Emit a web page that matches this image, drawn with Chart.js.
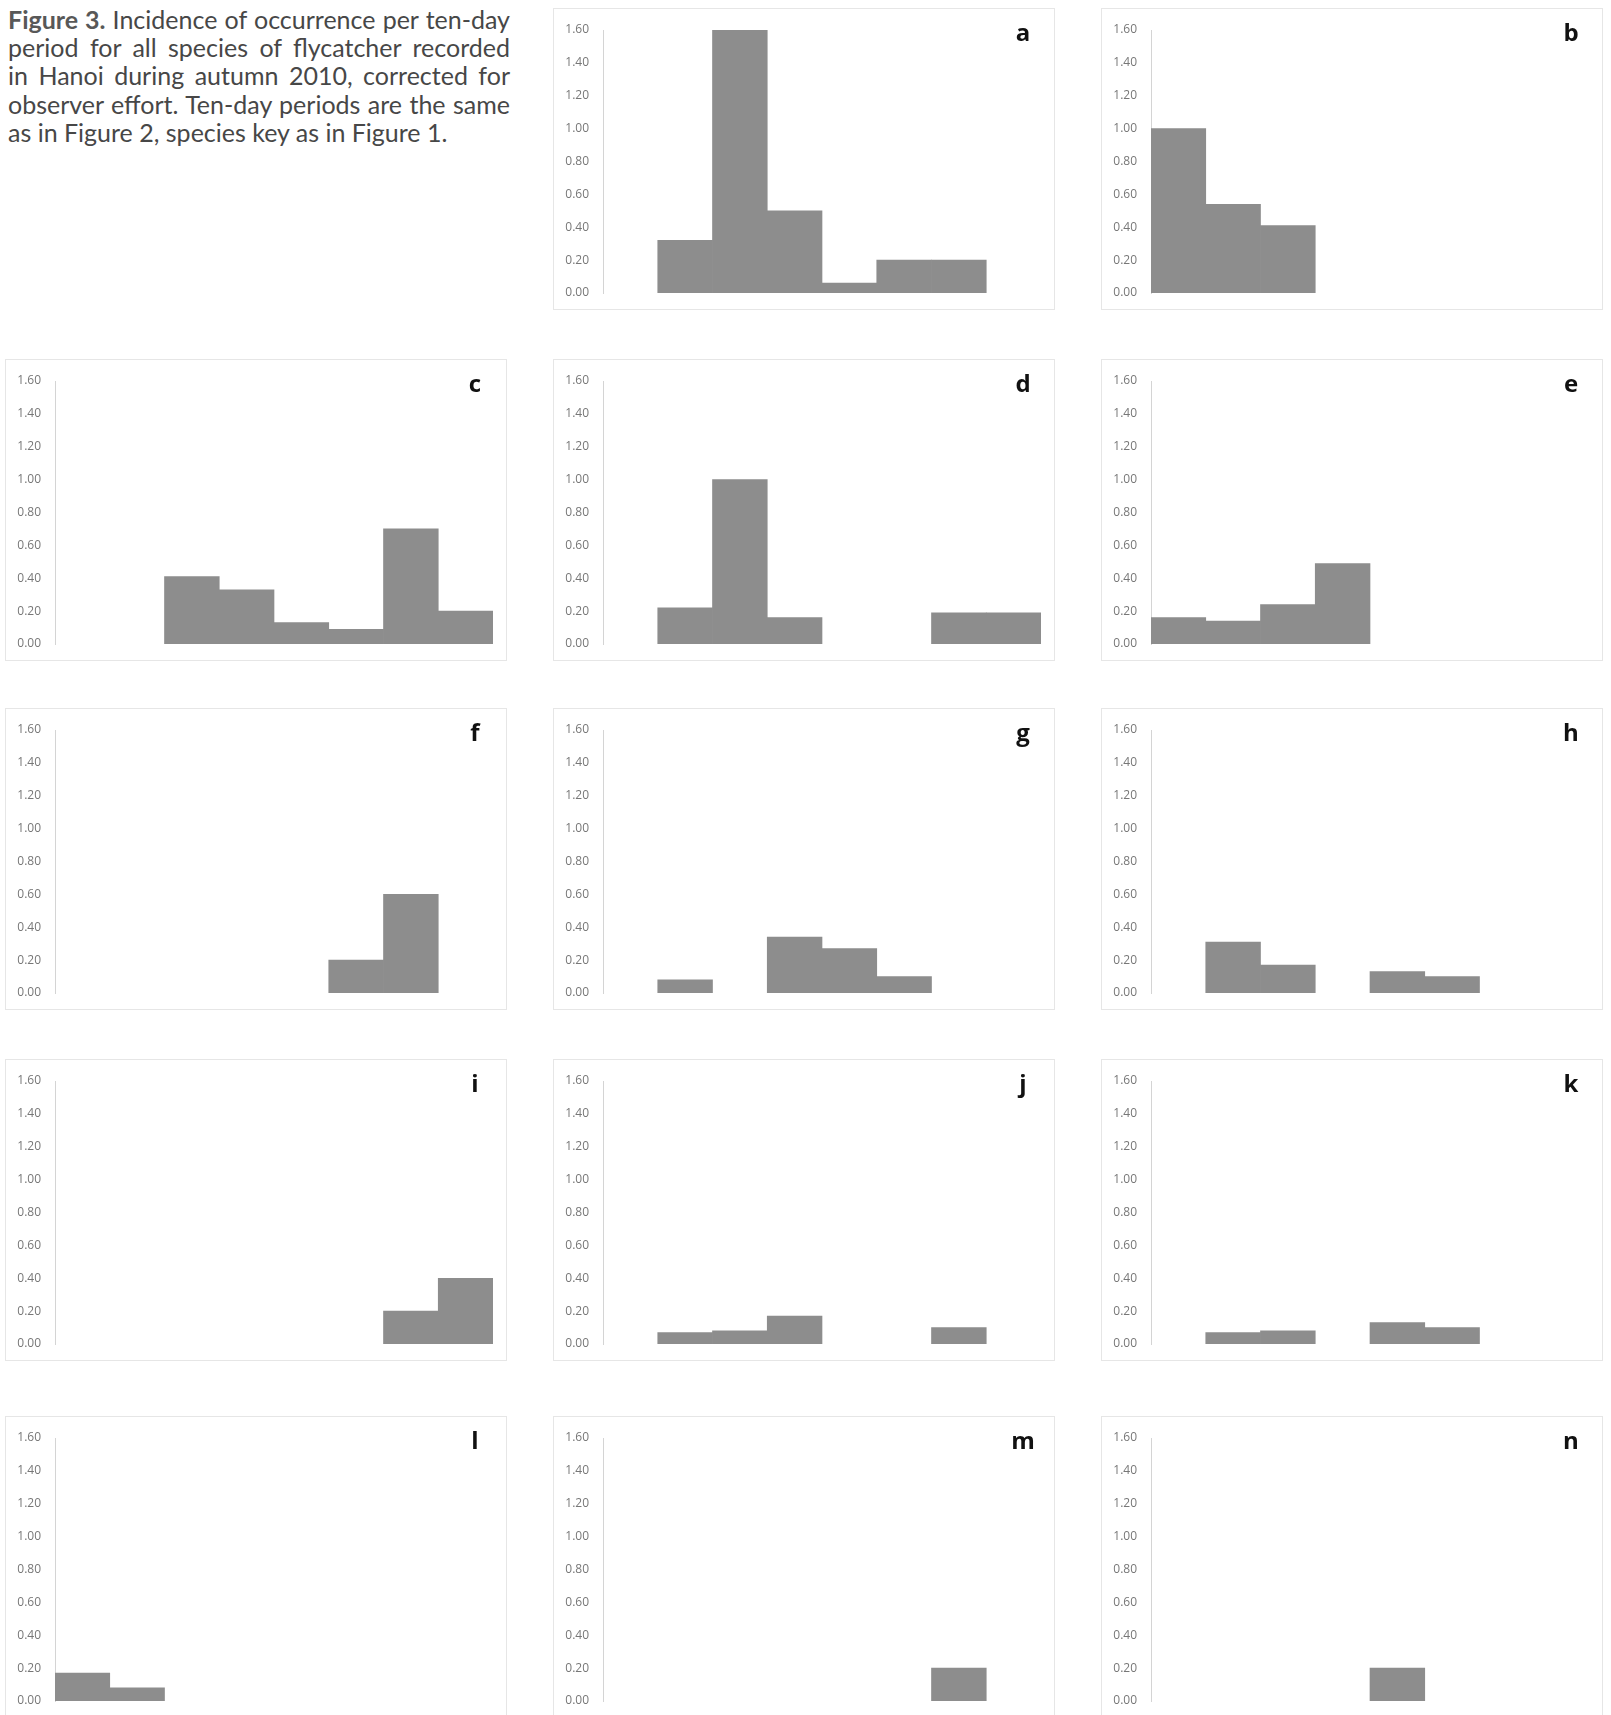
<!DOCTYPE html>
<html>
<head>
<meta charset="utf-8">
<script src="https://cdn.jsdelivr.net/npm/chart.js@4.4.1/dist/chart.umd.min.js"></script>
<style>
  html, body { margin: 0; padding: 0; background: #fff; }
  body { width: 1611px; height: 1715px; position: relative; overflow: hidden; }
  .caption {
    position: absolute; left: 8px; top: 5px; width: 502px;
    font-family: Lato, "Open Sans", sans-serif; font-size: 25px; line-height: 28.2px;
    color: #474747;
  }
  .caption .ln { white-space: nowrap; text-align: justify; text-align-last: justify; }
  .caption .ln.last { text-align-last: left; }
  .caption b { color: #585858; font-weight: 700; }
  .panel { position: absolute; border: 1px solid #e6e6e6; box-sizing: border-box; }
  .plot { position: absolute; }
  .tag {
    position: absolute; width: 30px; margin-left: -15px; text-align: center;
    font-family: "Open Sans", sans-serif; font-weight: 700; font-size: 24px; line-height: 24px;
    color: #111;
  }
</style>
</head>
<body>
<div class="caption">
  <div class="ln"><b>Figure 3.</b> Incidence of occurrence per ten-day</div>
  <div class="ln">period for all species of flycatcher recorded</div>
  <div class="ln">in Hanoi during autumn 2010, corrected for</div>
  <div class="ln">observer effort. Ten-day periods are the same</div>
  <div class="ln last">as in Figure 2, species key as in Figure 1.</div>
</div>
<div id="panels"></div>
<script>
// Ten-day periods (x categories, not labelled on the axes)
const periods = ['1', '2', '3', '4', '5', '6', '7', '8'];

// Incidence per ten-day period, one array per species panel (null = not recorded)
const speciesA = [null, 0.32, 1.60, 0.50, 0.06, 0.20, 0.20, null];
const speciesB = [1.00, 0.54, 0.41, null, null, null, null, null];
const speciesC = [null, null, 0.41, 0.33, 0.13, 0.09, 0.70, 0.20];
const speciesD = [null, 0.22, 1.00, 0.16, null, null, 0.19, 0.19];
const speciesE = [0.16, 0.14, 0.24, 0.49, null, null, null, null];
const speciesF = [null, null, null, null, null, 0.20, 0.60, null];
const speciesG = [null, 0.08, null, 0.34, 0.27, 0.10, null, null];
const speciesH = [null, 0.31, 0.17, null, 0.13, 0.10, null, null];
const speciesI = [null, null, null, null, null, null, 0.20, 0.40];
const speciesJ = [null, 0.07, 0.08, 0.17, null, null, 0.10, null];
const speciesK = [null, 0.07, 0.08, null, 0.13, 0.10, null, null];
const speciesL = [0.17, 0.08, null, null, null, null, null, null];
const speciesM = [null, null, null, null, null, null, 0.20, null];
const speciesN = [null, null, null, null, 0.20, null, null, null];

// Panel letters and their grid cells [row, column]
const panelLetters = ['a', 'b', 'c', 'd', 'e', 'f', 'g', 'h', 'i', 'j', 'k', 'l', 'm', 'n'];
const panelSeries = [speciesA, speciesB, speciesC, speciesD, speciesE, speciesF, speciesG,
                     speciesH, speciesI, speciesJ, speciesK, speciesL, speciesM, speciesN];
const panelCells = [[0, 1], [0, 2], [1, 0], [1, 1], [1, 2], [2, 0], [2, 1], [2, 2],
                    [3, 0], [3, 1], [3, 2], [4, 0], [4, 1], [4, 2]];

// Shared y axis range
const yMin = 0, yMax = 1.6, yStep = 0.2;

// Page geometry
const columnAxisX = [55, 603, 1151];
const rowTopY = [30, 381, 730, 1081, 1438];
const plotW = 438, plotH = 263, axisGutter = 50, padX = 12, padY = 30;

Chart.defaults.font.family = '"Open Sans", sans-serif';
Chart.defaults.font.size = 12;
Chart.defaults.color = '#777';

const host = document.getElementById('panels');

panelLetters.forEach((letter, idx) => {
  const [r, c] = panelCells[idx];
  const ax = columnAxisX[c];
  const ty = rowTopY[r];

  const frame = document.createElement('div');
  frame.className = 'panel';
  frame.style.left = (ax - axisGutter) + 'px';
  frame.style.top = (ty - 22) + 'px';
  frame.style.width = '502px';
  frame.style.height = '302px';
  host.appendChild(frame);

  const cv = document.createElement('canvas');
  cv.className = 'plot';
  cv.width = axisGutter + plotW + padX;
  cv.height = plotH + 2 * padY;
  cv.style.left = (ax - axisGutter) + 'px';
  cv.style.top = (ty - padY) + 'px';
  host.appendChild(cv);

  const tag = document.createElement('div');
  tag.className = 'tag';
  tag.textContent = letter;
  tag.style.left = (ax + 420) + 'px';
  tag.style.top = (ty + 11 - 21) + 'px';
  host.appendChild(tag);

  const chart = new Chart(cv, {
    type: 'bar',
    data: {
      labels: periods,
      datasets: [{
        data: panelSeries[idx],
        backgroundColor: '#8d8d8d',
        borderWidth: 0,
        barPercentage: 1,
        categoryPercentage: 1
      }]
    },
    options: {
      responsive: false,
      animation: false,
      devicePixelRatio: 1,
      layout: { padding: { left: 0, right: padX, top: padY, bottom: padY } },
      plugins: { legend: { display: false }, tooltip: { enabled: false } },
      scales: {
        x: { display: false },
        y: {
          min: yMin, max: yMax,
          afterFit: (s) => { s.width = axisGutter; },
          grid: { display: false, drawTicks: false },
          border: { display: true, color: '#d4d4d4', width: 1, dash: [2, 2] },
          ticks: {
            stepSize: yStep, padding: 14, color: '#777',
            callback: (v) => Number(v).toFixed(2)
          }
        }
      }
    }
  });

  // keep the plot area anchored on the panel's axis position
  const area = chart.chartArea;
  cv.style.left = (ax - area.left) + 'px';
  cv.style.top = (ty - area.top) + 'px';
});
</script>
</body>
</html>
